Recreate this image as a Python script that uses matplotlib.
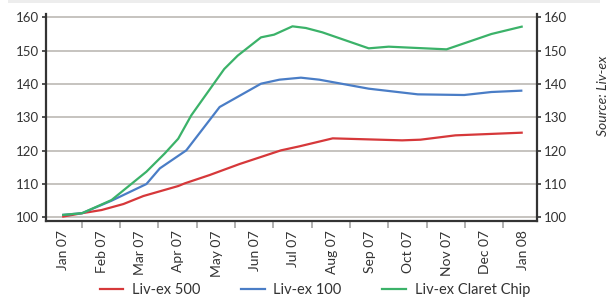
import matplotlib
matplotlib.use('Agg')
import matplotlib.pyplot as plt
from matplotlib.patches import Rectangle

# x positions are months after Jan 07 (0 = Jan 07, 12 = Jan 08)
MONTH_LABELS = ['Jan 07', 'Feb 07', 'Mar 07', 'Apr 07', 'May 07', 'Jun 07', 'Jul 07',
                'Aug 07', 'Sep 07', 'Oct 07', 'Nov 07', 'Dec 07', 'Jan 08']

LX500_X = [0, 0.49, 1.0, 1.57, 2.09, 3.0, 3.17, 3.82, 4.6, 5.68, 6.16, 7.03, 8.84, 9.32, 10.23, 11.96]
LX500_Y = [100.25, 101.25, 102.2, 104.0, 106.4, 109.4, 110.2, 112.7, 116.0, 120.1, 121.3, 123.7,
           123.1, 123.3, 124.6, 125.4]

LX100_X = [0, 0.49, 1.26, 2.17, 2.52, 3.21, 4.08, 5.16, 5.64, 6.2, 6.68, 7.97, 9.25, 10.46,
           11.17, 11.95]
LX100_Y = [100.75, 101.25, 105.0, 110.0, 114.7, 120.1, 133.1, 140.1, 141.3, 141.9, 141.3,
           138.6, 136.9, 136.7, 137.6, 138.0]

CLARET_X = [0, 0.49, 1.26, 2.17, 2.65, 3.0, 3.34, 4.2, 4.55, 5.16, 5.5, 5.98, 6.33, 6.76, 7.97,
            8.49, 10.0, 11.17, 11.96]
CLARET_Y = [100.75, 101.25, 105.2, 113.7, 119.2, 123.6, 130.6, 144.5, 148.5, 154.0, 154.8, 157.3,
            156.8, 155.5, 150.7, 151.2, 150.4, 155.0, 157.2]

Y_TICKS = [100, 110, 120, 130, 140, 150, 160]

RED   = '#D6383A'
BLUE  = '#4A7DC6'
GREEN = '#3BB269'
GRID  = '#C2BEBA'
DARK  = '#333333'

plt.rcParams['font.family'] = ['Lato', 'DejaVu Sans']

fig = plt.figure(figsize=(6.14, 3.0), dpi=100)
ax = fig.add_axes([46 / 614, 1 - 220.7 / 300, (537 - 46) / 614, (220.7 - 14) / 300])

for y in Y_TICKS:
    ax.axhline(y, color=GRID, lw=1.3, zorder=1)

ax.plot(LX500_X, LX500_Y, color=RED, lw=1.6, label='Liv-ex 500', zorder=3)
ax.plot(LX100_X, LX100_Y, color=BLUE, lw=1.6, label='Liv-ex 100', zorder=3)
ax.plot(CLARET_X, CLARET_Y, color=GREEN, lw=1.6, label='Liv-ex Claret Chip', zorder=3)

ax.set_xlim(-0.45, 12.36)
ax.set_ylim(99, 161)

# y axis on both sides
ax.set_yticks(Y_TICKS)
ax.tick_params(axis='y', which='both', left=True, right=True, labelleft=True, labelright=True,
               direction='out', length=3, width=1.2, color=DARK, labelsize=9.5,
               labelcolor=DARK, pad=2)

# month labels at data points, tick marks between them
ax.set_xticks(range(len(MONTH_LABELS)))
ax.set_xticklabels(MONTH_LABELS, rotation=90)
ax.tick_params(axis='x', which='major', length=0, labelsize=10, labelcolor=DARK, pad=7)
ax.set_xticks([m + 0.48 for m in range(12)], minor=True)
ax.tick_params(axis='x', which='minor', length=5, width=1.3, color='#AAAAAA', direction='out')

for side in ['left', 'right', 'bottom']:
    ax.spines[side].set_color(DARK)
    ax.spines[side].set_linewidth(1.6)
ax.spines['top'].set_visible(False)

fig.legend(loc='center', bbox_to_anchor=(0.513, 0.033), ncol=3, frameon=False,
           fontsize=10.5, handlelength=1.6, handletextpad=0.6, columnspacing=2.8,
           labelcolor=DARK)

fig.text(0.982, 0.68, 'Source: Liv-ex', rotation=90, ha='center', va='center',
         fontsize=10, style='italic', color=DARK)

# faint shadow strip along the top edge
fig.add_artist(Rectangle((8 / 614, 0.99), 592 / 614, 0.01, transform=fig.transFigure,
                         color='#EDEDED', lw=0))

fig.savefig('out.png', dpi=100)
